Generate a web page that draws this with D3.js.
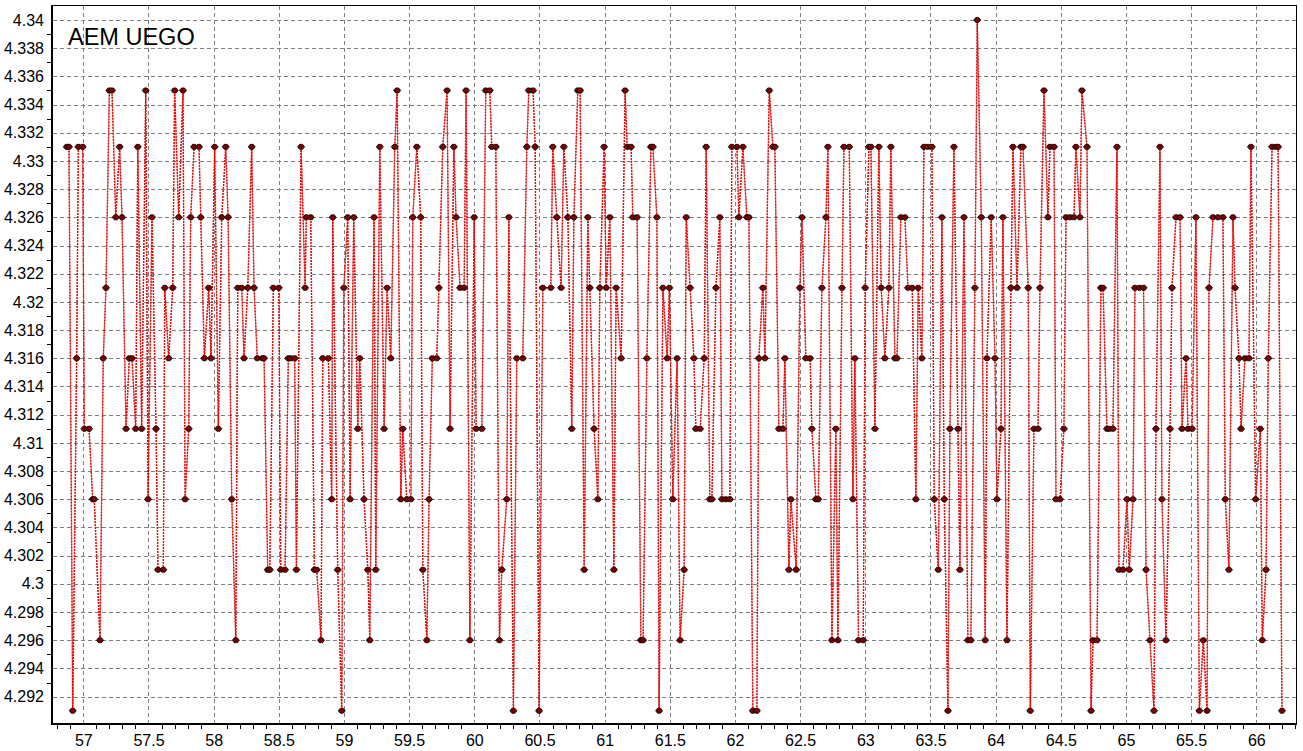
<!DOCTYPE html>
<html><head><meta charset="utf-8">
<script src="https://cdn.jsdelivr.net/npm/d3@7/dist/d3.min.js"></script>
<style>
html,body{margin:0;padding:0;background:#fff;}
svg{display:block;}
text{font-family:"Liberation Sans",Arial,sans-serif;fill:#000;}
</style>
</head><body>
<svg id="chart" width="1303" height="751"></svg>
<script>
const chartTitle = "AEM UEGO";

const sampleX = [
56.873,56.890,56.919,56.949,56.962,56.995,57.008,57.044,57.072,57.084,
57.128,57.153,57.174,57.200,57.220,57.249,57.279,57.297,57.328,57.353,
57.374,57.402,57.418,57.448,57.479,57.497,57.527,57.558,57.573,57.614,
57.625,57.655,57.686,57.701,57.732,57.765,57.781,57.809,57.824,57.850,
57.888,57.901,57.929,57.962,57.980,58.008,58.036,58.062,58.093,58.111,
58.139,58.170,58.185,58.216,58.233,58.262,58.292,58.310,58.335,58.374,
58.387,58.415,58.431,58.458,58.500,58.515,58.548,58.573,58.592,58.622,
58.635,58.671,58.702,58.711,58.745,58.773,58.791,58.824,58.837,58.880,
58.906,58.914,58.952,58.983,58.999,59.029,59.047,59.075,59.106,59.121,
59.154,59.183,59.198,59.231,59.244,59.275,59.308,59.331,59.359,59.390,
59.408,59.436,59.451,59.482,59.513,59.528,59.559,59.589,59.605,59.636,
59.653,59.678,59.712,59.728,59.758,59.791,59.814,59.843,59.860,59.891,
59.922,59.937,59.966,59.999,60.014,60.058,60.088,60.119,60.134,60.165,
60.193,60.211,60.249,60.265,60.300,60.326,60.372,60.403,60.418,60.451,
60.467,60.497,60.526,60.587,60.602,60.633,60.666,60.687,60.718,60.748,
60.764,60.794,60.812,60.843,60.871,60.886,60.919,60.948,60.963,60.996,
61.012,61.040,61.071,61.088,61.127,61.157,61.173,61.203,61.216,61.249,
61.278,61.295,61.324,61.355,61.370,61.401,61.418,61.447,61.480,61.497,
61.523,61.556,61.579,61.610,61.626,61.656,61.685,61.700,61.733,61.764,
61.779,61.807,61.823,61.854,61.884,61.900,61.930,61.961,61.976,62.015,
62.030,62.061,62.091,62.107,62.137,62.168,62.183,62.214,62.230,62.263,
62.291,62.306,62.337,62.368,62.383,62.414,62.429,62.470,62.498,62.514,
62.544,62.577,62.590,62.621,62.639,62.667,62.698,62.713,62.744,62.774,
62.790,62.821,62.836,62.877,62.905,62.920,62.948,62.984,62.999,63.028,
63.043,63.074,63.104,63.122,63.150,63.181,63.196,63.227,63.243,63.273,
63.304,63.327,63.360,63.388,63.406,63.434,63.450,63.480,63.511,63.529,
63.560,63.588,63.606,63.634,63.649,63.680,63.711,63.726,63.757,63.787,
63.810,63.841,63.859,63.890,63.920,63.933,63.966,63.995,64.010,64.041,
64.056,64.087,64.117,64.133,64.164,64.194,64.210,64.250,64.266,64.294,
64.325,64.340,64.371,64.401,64.417,64.448,64.463,64.494,64.524,64.540,
64.570,64.601,64.616,64.647,64.662,64.701,64.732,64.747,64.778,64.808,
64.824,64.854,64.870,64.900,64.931,64.946,64.977,65.008,65.025,65.054,
65.069,65.104,65.135,65.154,65.184,65.215,65.230,65.261,65.276,65.307,
65.338,65.353,65.384,65.415,65.430,65.461,65.476,65.507,65.537,65.563,
65.593,65.622,65.637,65.668,65.706,65.744,65.762,65.790,65.821,65.837,
65.867,65.883,65.913,65.944,65.959,65.995,66.031,66.046,66.075,66.092,
66.121,66.151,66.167,66.197
];

const sampleY = [
4.331,4.331,4.291,4.316,4.331,4.331,4.311,4.311,4.306,4.306,
4.296,4.316,4.321,4.335,4.335,4.326,4.331,4.326,4.311,4.316,
4.316,4.311,4.331,4.311,4.335,4.306,4.326,4.311,4.301,4.301,
4.321,4.316,4.321,4.335,4.326,4.335,4.306,4.311,4.326,4.331,
4.331,4.326,4.316,4.321,4.316,4.331,4.311,4.326,4.331,4.326,
4.306,4.296,4.321,4.321,4.316,4.321,4.331,4.321,4.316,4.316,
4.316,4.301,4.301,4.321,4.321,4.301,4.301,4.316,4.316,4.316,
4.301,4.331,4.321,4.326,4.326,4.301,4.301,4.296,4.316,4.316,
4.306,4.326,4.301,4.291,4.321,4.326,4.306,4.326,4.311,4.316,
4.306,4.301,4.296,4.326,4.301,4.331,4.311,4.321,4.316,4.331,
4.335,4.306,4.311,4.306,4.306,4.326,4.331,4.326,4.301,4.296,
4.306,4.316,4.316,4.321,4.331,4.335,4.311,4.331,4.326,4.321,
4.321,4.335,4.296,4.326,4.311,4.311,4.335,4.335,4.331,4.331,
4.296,4.301,4.306,4.326,4.291,4.316,4.316,4.331,4.335,4.335,
4.331,4.291,4.321,4.321,4.331,4.326,4.321,4.331,4.326,4.311,
4.326,4.335,4.335,4.301,4.326,4.321,4.311,4.306,4.321,4.331,
4.321,4.326,4.301,4.321,4.316,4.335,4.331,4.331,4.326,4.326,
4.296,4.296,4.316,4.331,4.331,4.326,4.291,4.321,4.316,4.321,
4.306,4.316,4.296,4.301,4.326,4.321,4.316,4.311,4.311,4.316,
4.331,4.306,4.306,4.321,4.326,4.306,4.306,4.306,4.331,4.331,
4.326,4.331,4.326,4.326,4.291,4.291,4.316,4.321,4.316,4.335,
4.331,4.331,4.311,4.311,4.316,4.301,4.306,4.301,4.321,4.326,
4.316,4.316,4.311,4.306,4.306,4.321,4.326,4.331,4.296,4.311,
4.296,4.321,4.331,4.331,4.306,4.316,4.296,4.296,4.321,4.331,
4.331,4.311,4.331,4.321,4.316,4.321,4.331,4.316,4.316,4.326,
4.326,4.321,4.321,4.306,4.321,4.316,4.331,4.331,4.331,4.306,
4.301,4.326,4.306,4.291,4.311,4.331,4.311,4.301,4.326,4.296,
4.296,4.321,4.340,4.326,4.296,4.316,4.326,4.316,4.306,4.311,
4.326,4.296,4.321,4.331,4.321,4.331,4.331,4.321,4.291,4.311,
4.311,4.321,4.335,4.326,4.331,4.331,4.306,4.306,4.311,4.326,
4.326,4.326,4.331,4.326,4.335,4.331,4.291,4.296,4.296,4.321,
4.321,4.311,4.311,4.311,4.331,4.301,4.301,4.306,4.301,4.306,
4.321,4.321,4.321,4.301,4.296,4.291,4.311,4.331,4.306,4.296,
4.311,4.321,4.326,4.326,4.311,4.316,4.311,4.311,4.326,4.291,
4.296,4.291,4.321,4.326,4.326,4.326,4.306,4.301,4.326,4.321,
4.316,4.311,4.316,4.316,4.331,4.306,4.311,4.296,4.301,4.316,
4.331,4.331,4.331,4.291
];

const xTickValues = [57,57.5,58,58.5,59,59.5,60,60.5,61,61.5,62,62.5,63,63.5,64,64.5,65,65.5,66];
const xTickLabels = ["57","57.5","58","58.5","59","59.5","60","60.5","61","61.5","62","62.5","63","63.5","64","64.5","65","65.5","66"];
const yTickValues = [4.292,4.294,4.296,4.298,4.3,4.302,4.304,4.306,4.308,4.31,4.312,4.314,4.316,4.318,4.32,4.322,4.324,4.326,4.328,4.33,4.332,4.334,4.336,4.338,4.34];
const yTickLabels = ["4.292","4.294","4.296","4.298","4.3","4.302","4.304","4.306","4.308","4.31","4.312","4.314","4.316","4.318","4.32","4.322","4.324","4.326","4.328","4.33","4.332","4.334","4.336","4.338","4.34"];

const L = 53, T = 6, R = 1296, B = 723;
const svg = d3.select("#chart");

const x = d3.scaleLinear().domain([56.7675, 66.3046]).range([L, R]);
const y = d3.scaleLinear().domain([4.29013, 4.34099]).range([B, T]);

const pts = sampleX.map((v, i) => ({x: v, y: sampleY[i]}));

// grid
const grid = svg.append("g").attr("stroke", "#808080").attr("stroke-width", 1).attr("stroke-dasharray", "4,3").attr("shape-rendering", "crispEdges");
grid.selectAll("line.gx").data(xTickValues).join("line")
  .attr("x1", d => Math.round(x(d)) + 0.5).attr("x2", d => Math.round(x(d)) + 0.5)
  .attr("y1", T).attr("y2", B);
grid.selectAll("line.gy").data(yTickValues).join("line")
  .attr("y1", d => Math.round(y(d)) + 0.5).attr("y2", d => Math.round(y(d)) + 0.5)
  .attr("x1", L).attr("x2", R);

// clip
svg.append("clipPath").attr("id", "clip").append("rect").attr("x", L).attr("y", T).attr("width", R - L).attr("height", B - T);
const plot = svg.append("g").attr("clip-path", "url(#clip)");

const line = d3.line().x(d => x(d.x)).y(d => y(d.y));
plot.append("path").datum(pts).attr("d", line).attr("fill", "none")
  .attr("stroke", "#000").attr("stroke-width", 0.6).attr("stroke-dasharray", "2,1");
plot.append("path").datum(pts).attr("d", line).attr("fill", "none")
  .attr("stroke", "#ff0000").attr("stroke-width", 1.4).attr("stroke-dasharray", "2,1");

plot.selectAll("path.m").data(pts).join("path")
  .attr("d", "M-3.5,0 L-1.5,-2.5 L1.5,-2.5 L3.5,0 L1.5,2.5 L-1.5,2.5 Z")
  .attr("transform", d => `translate(${x(d.x)},${y(d.y)})`)
  .attr("fill", "#7a0000").attr("stroke", "#000").attr("stroke-width", 0.8);

// frame
svg.append("rect").attr("x", L - 0.5).attr("y", T - 0.5).attr("width", R - L + 1).attr("height", B - T + 1)
  .attr("fill", "none").attr("stroke", "#000").attr("stroke-width", 1).attr("shape-rendering", "crispEdges");
svg.append("line").attr("x1", L - 1).attr("x2", L - 1).attr("y1", T - 1).attr("y2", B + 2)
  .attr("stroke", "#000").attr("stroke-width", 2).attr("shape-rendering", "crispEdges");
svg.append("line").attr("x1", L - 2).attr("x2", R + 1).attr("y1", B + 1).attr("y2", B + 1)
  .attr("stroke", "#000").attr("stroke-width", 2).attr("shape-rendering", "crispEdges");

// axes
const xAxis = d3.axisBottom(x).tickValues(xTickValues).tickFormat((d, i) => xTickLabels[i]).tickSize(0).tickPadding(10);
const gx = svg.append("g").attr("transform", `translate(0,${B + 2})`).call(xAxis);
gx.select(".domain").remove();
gx.selectAll("text").attr("font-size", "16px").attr("font-family", "Liberation Sans, Arial, sans-serif").attr("fill", "#000");

const yAxis = d3.axisLeft(y).tickValues(yTickValues).tickFormat((d, i) => yTickLabels[i]).tickSize(0).tickPadding(8);
const gy = svg.append("g").attr("transform", `translate(${L - 1},0)`).call(yAxis);
gy.select(".domain").remove();
gy.selectAll("text").attr("font-size", "16px").attr("font-family", "Liberation Sans, Arial, sans-serif").attr("fill", "#000");

// minor ticks
const minorX = d3.range(56.8, 66.31, 0.1).filter(v => Math.abs(v * 2 - Math.round(v * 2)) > 1e-6);
svg.append("g").selectAll("line").data(minorX).join("line")
  .attr("x1", d => Math.round(x(d)) + 0.5).attr("x2", d => Math.round(x(d)) + 0.5)
  .attr("y1", B + 2).attr("y2", B + 6).attr("stroke", "#000").attr("shape-rendering", "crispEdges");
const minorY = yTickValues.map(v => v + 0.001).filter(v => v < 4.341);
svg.append("g").selectAll("line").data(minorY).join("line")
  .attr("y1", d => Math.round(y(d)) + 0.5).attr("y2", d => Math.round(y(d)) + 0.5)
  .attr("x1", L - 6).attr("x2", L - 2).attr("stroke", "#000").attr("shape-rendering", "crispEdges");

// title
svg.append("text").attr("x", 68).attr("y", 45).attr("font-size", "23.5px").text(chartTitle);
</script>
</body></html>
